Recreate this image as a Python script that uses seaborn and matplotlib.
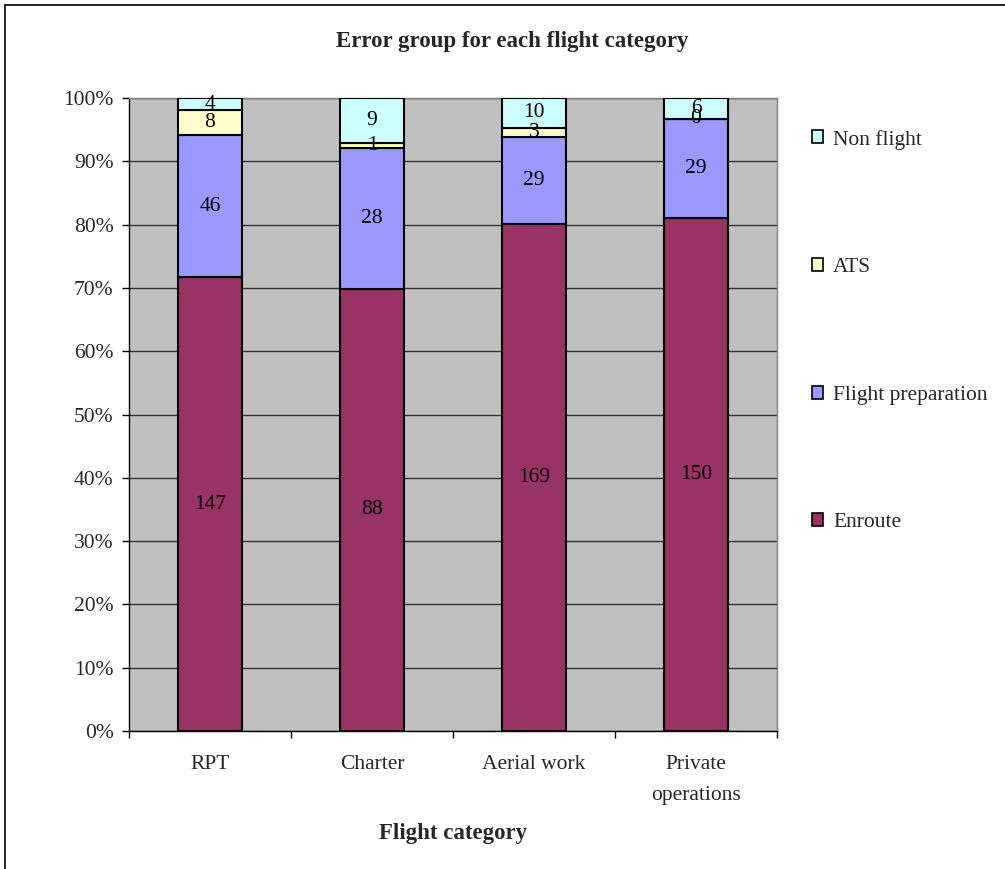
import numpy as np
import pandas as pd
import matplotlib
matplotlib.use("Agg")
import matplotlib.pyplot as plt
from matplotlib.patches import Patch
from matplotlib.lines import Line2D
import seaborn as sns

# Error counts per flight category
categories = ["RPT", "Charter", "Aerial work", "Private\noperations"]
enroute = [147, 88, 169, 150]
flight_prep = [46, 28, 29, 29]
ats = [8, 1, 3, 0]
non_flight = [4, 9, 10, 6]

series_names = ["Enroute", "Flight preparation", "ATS", "Non flight"]
series_values = [enroute, flight_prep, ats, non_flight]
series_colors = ["#993366", "#9999FF", "#FFFFCC", "#CCFFFF"]

sns.set_theme(style="white")
plt.rcParams["font.family"] = ["Liberation Serif", "DejaVu Serif"]

FS = 15.5
FS_BOLD = 16.5

fig = plt.figure(figsize=(10.05, 8.69), dpi=100)
ax = fig.add_axes([129 / 1005, 1 - 731 / 869, (777 - 129) / 1005, (731 - 98) / 869])
ax.set_facecolor("#C0C0C0")

counts = np.array(series_values, dtype=float)
totals = counts.sum(axis=0)
pct = counts / totals * 100.0

bottom = np.zeros(len(categories))
for name, vals, p, col in zip(series_names, series_values, pct, series_colors):
    df = pd.DataFrame({"category": categories, "pct": p})
    sns.barplot(data=df, x="category", y="pct", bottom=bottom, color=col,
                width=0.4, edgecolor="black", linewidth=1.5, saturation=1,
                ax=ax, zorder=3)
    for i, (v, pv) in enumerate(zip(vals, p)):
        ax.text(i, bottom[i] + pv / 2, str(v), ha="center", va="center",
                fontsize=FS, color="black", zorder=5)
    bottom = bottom + p

ax.set_ylim(0, 100)
ax.set_xlim(-0.5, len(categories) - 0.5)
ax.set_yticks(np.arange(0, 101, 10))
ax.set_yticklabels([f"{v}%" for v in range(0, 101, 10)], fontsize=FS)
ax.yaxis.grid(True, color="#333333", linewidth=1.0, zorder=0)
ax.set_axisbelow(True)

ax.set_xticks(range(len(categories)))
ax.set_xticklabels(categories, fontsize=FS, linespacing=1.85)
ax.set_xticks(np.arange(-0.5, len(categories), 1.0), minor=True)
ax.tick_params(axis="x", which="major", length=0, pad=17.5)
ax.tick_params(axis="x", which="minor", length=5, width=1, color="black", direction="out", bottom=True)
ax.tick_params(axis="y", which="major", length=5, width=1, color="black", direction="out", left=True, pad=6)

for side in ["top", "right"]:
    ax.spines[side].set_color("#808080")
    ax.spines[side].set_linewidth(1)
for side in ["left", "bottom"]:
    ax.spines[side].set_color("black")
    ax.spines[side].set_linewidth(1)

ax.set_xlabel("Flight category", fontsize=FS_BOLD, fontweight="bold", labelpad=13)
ax.set_ylabel("")

fig.text(512 / 1005, 1 - 41 / 869, "Error group for each flight category",
         ha="center", va="center", fontsize=FS_BOLD, fontweight="bold")

handles = [Patch(facecolor=c, edgecolor="black", linewidth=1.2)
           for c in series_colors][::-1]
labels = series_names[::-1]
fig.legend(handles, labels, loc="upper left",
           bbox_to_anchor=(803 / 1005, 1 - 121 / 869), frameon=False,
           fontsize=FS, handlelength=0.55, handleheight=0.55, handletextpad=0.45,
           labelspacing=5.04, borderaxespad=0)

# Outer chart frame
fig.add_artist(Line2D([5 / 1005, 5 / 1005], [0, 1 - 5 / 869], color="black", linewidth=1.2,
                      transform=fig.transFigure))
fig.add_artist(Line2D([5 / 1005, 1.0], [1 - 5 / 869, 1 - 5 / 869], color="black", linewidth=1.2,
                      transform=fig.transFigure))

fig.savefig("out.png", dpi=100)
